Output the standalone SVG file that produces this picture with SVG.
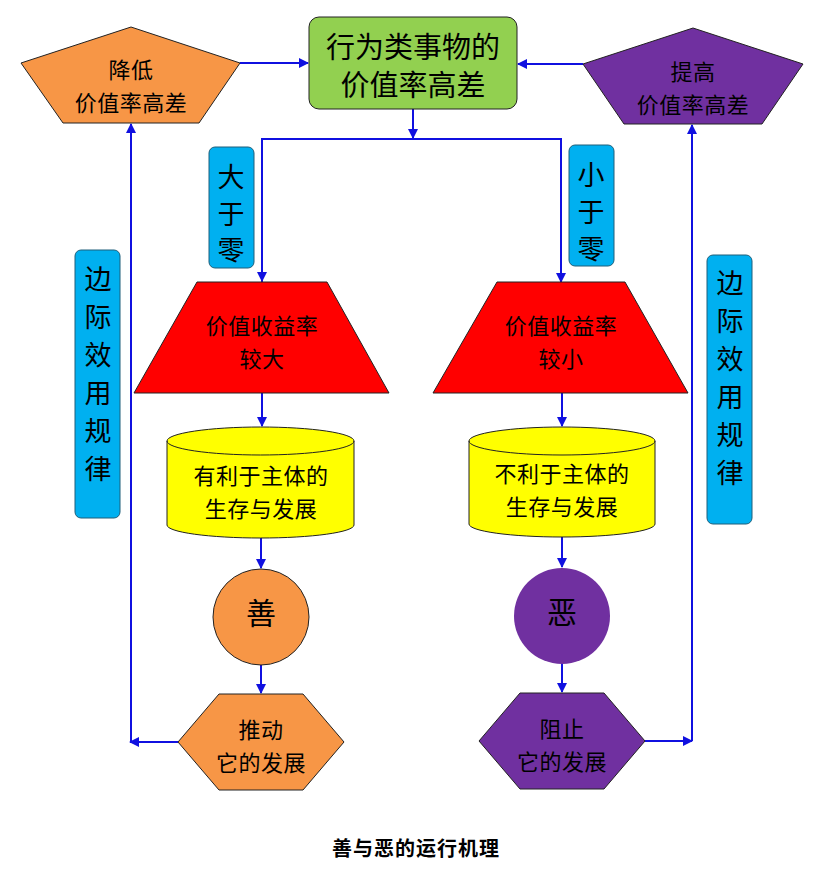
<svg xmlns="http://www.w3.org/2000/svg" width="820" height="873" viewBox="0 0 820 873">
<style>
text{font-family:"Noto Sans CJK SC","Liberation Serif",sans-serif;fill:#000;text-anchor:middle;dominant-baseline:central}
.sh{stroke:#222;stroke-width:1}
.or{fill:#F79646}
.pu{fill:#7030A0}
.bl{fill:#00B0F0;stroke:#1f5f7a;stroke-width:1}
.rd{fill:#FF0000}
.ye{fill:#FFFF00}
.t22{font-size:22px;letter-spacing:0.5px}
.t27{font-size:27px}
.cn{fill:none;stroke:#1010E0;stroke-width:2}
</style>
<defs>
<marker id="ah" viewBox="0 0 10 10" refX="9" refY="5" markerWidth="5" markerHeight="5" orient="auto" markerUnits="strokeWidth">
<path d="M0,0 L10,5 L0,10 z" fill="#1010E0"/>
</marker>
</defs>
<rect width="820" height="873" fill="#fff"/>

<g id="connectors">
<path class="cn" d="M240,63 L308,63" marker-end="url(#ah)"/>
<path class="cn" d="M583,64 L518,64" marker-end="url(#ah)"/>
<path class="cn" d="M413,109 L413,138" marker-end="url(#ah)"/>
<path class="cn" d="M262,282 L262,139 L561,139 L561,282" marker-end="url(#ah)"/>
<path class="cn" d="M262,139 L262,281" marker-end="url(#ah)"/>
<path class="cn" d="M262,393 L262,426" marker-end="url(#ah)"/>
<path class="cn" d="M562,393 L562,426" marker-end="url(#ah)"/>
<path class="cn" d="M261,538 L261,568" marker-end="url(#ah)"/>
<path class="cn" d="M562,537 L562,567" marker-end="url(#ah)"/>
<path class="cn" d="M261,665 L261,693" marker-end="url(#ah)"/>
<path class="cn" d="M562,664 L562,692" marker-end="url(#ah)"/>
<path class="cn" d="M178,742 L130,742" marker-end="url(#ah)"/>
<path class="cn" d="M131,742 L131,124" marker-end="url(#ah)"/>
<path class="cn" d="M645,741 L692,741" marker-end="url(#ah)"/>
<path class="cn" d="M692,741 L692,125" marker-end="url(#ah)"/>
</g>

<g id="n-lower">
<polygon class="sh or" points="131,27 240,63 199,123 63,123 21,63"/>
<text class="t22" x="131" y="68">降低</text>
<text class="t22" x="131" y="101">价值率高差</text>
</g>

<g id="n-top">
<rect class="sh" x="309" y="17" width="208" height="92" rx="10" fill="#92D050"/>
<text x="413" y="45" style="font-size:29px">行为类事物的</text>
<text x="413" y="83" style="font-size:29px">价值率高差</text>
</g>

<g id="n-raise">
<polygon class="sh pu" points="693,28 803,64 762,124 624,124 583,64"/>
<text class="t22" x="693" y="70">提高</text>
<text class="t22" x="693" y="103">价值率高差</text>
</g>

<g id="n-gt0">
<rect class="bl" x="209" y="147" width="45" height="121" rx="6"/>
<text class="t27" x="231" y="175">大</text>
<text class="t27" x="231" y="212">于</text>
<text class="t27" x="231" y="248">零</text>
</g>

<g id="n-lt0">
<rect class="bl" x="569" y="145" width="45" height="121" rx="6"/>
<text class="t27" x="591" y="173">小</text>
<text class="t27" x="591" y="210">于</text>
<text class="t27" x="591" y="247">零</text>
</g>

<g id="n-law-left">
<rect class="bl" x="75" y="250" width="45" height="268" rx="6"/>
<text class="t27" x="98" y="277">边</text>
<text class="t27" x="98" y="315">际</text>
<text class="t27" x="98" y="353">效</text>
<text class="t27" x="98" y="391">用</text>
<text class="t27" x="98" y="429">规</text>
<text class="t27" x="98" y="467">律</text>
</g>

<g id="n-law-right">
<rect class="bl" x="707" y="255" width="45" height="269" rx="6"/>
<text class="t27" x="730" y="281">边</text>
<text class="t27" x="730" y="319">际</text>
<text class="t27" x="730" y="357">效</text>
<text class="t27" x="730" y="395">用</text>
<text class="t27" x="730" y="433">规</text>
<text class="t27" x="730" y="471">律</text>
</g>

<g id="n-rate-big">
<polygon class="sh rd" points="197,282 327,282 389,393 134,393"/>
<text class="t22" x="262" y="324">价值收益率</text>
<text class="t22" x="262" y="357">较大</text>
</g>

<g id="n-rate-small">
<polygon class="sh rd" points="497,282 625,282 688,393 433,393"/>
<text class="t22" x="561" y="324">价值收益率</text>
<text class="t22" x="561" y="357">较小</text>
</g>

<g id="n-good-for">
<path class="sh ye" d="M167,441 A93.5,14 0 0 1 354,441 L354,525 A93.5,13 0 0 1 167,525 Z"/>
<path class="sh" fill="none" d="M167,441 A93.5,14 0 0 0 354,441"/>
<text class="t22" x="261" y="474">有利于主体的</text>
<text class="t22" x="261" y="507">生存与发展</text>
</g>

<g id="n-bad-for">
<path class="sh ye" d="M469,441 A93,14 0 0 1 655,441 L655,524 A93,13 0 0 1 469,524 Z"/>
<path class="sh" fill="none" d="M469,441 A93,14 0 0 0 655,441"/>
<text class="t22" x="562" y="472">不利于主体的</text>
<text class="t22" x="562" y="505">生存与发展</text>
</g>

<g id="n-good">
<circle class="sh or" cx="261" cy="617" r="48"/>
<text x="261" y="611" style="font-size:30px">善</text>
</g>

<g id="n-evil">
<circle class="pu" cx="562" cy="616" r="48"/>
<text x="562" y="610" style="font-size:30px">恶</text>
</g>

<g id="n-push">
<polygon class="sh or" points="219,694 303,694 344,742 303,790 219,790 178,742"/>
<text class="t22" x="261" y="728">推动</text>
<text class="t22" x="261" y="761">它的发展</text>
</g>

<g id="n-stop">
<polygon class="sh pu" points="520,693 604,693 645,741 604,789 520,789 479,741"/>
<text class="t22" x="562" y="727">阻止</text>
<text class="t22" x="562" y="760">它的发展</text>
</g>

<text x="416" y="847" style="font-size:20px;font-weight:bold;letter-spacing:1px">善与恶的运行机理</text>
</svg>
